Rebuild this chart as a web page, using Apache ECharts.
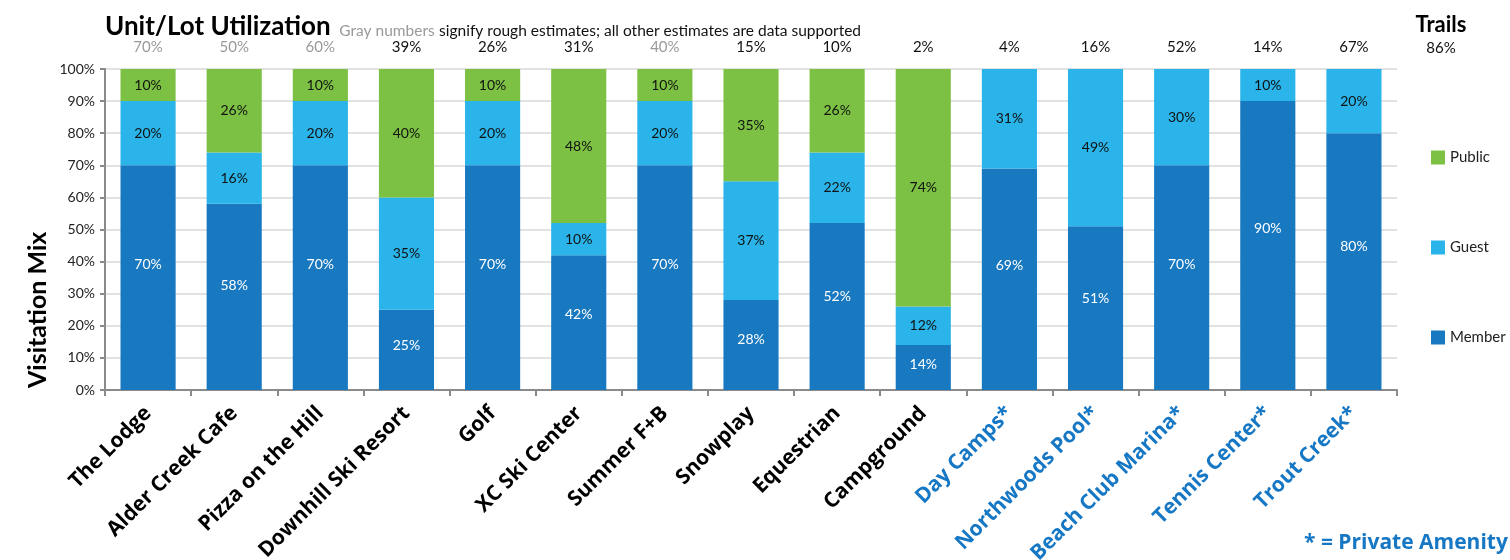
<!DOCTYPE html>
<html>
<head>
<meta charset="utf-8">
<script src="https://cdn.jsdelivr.net/npm/echarts@6/dist/echarts.min.js"></script>
<style>
  html, body { margin: 0; padding: 0; background: #fff; }
  #chart { width: 1510px; height: 560px; }
</style>
</head>
<body>
<div id="chart"></div>
<script>
// Amenities and visitation mix (percent of visits)
const amenities = ['The Lodge', 'Alder Creek Cafe', 'Pizza on the Hill', 'Downhill Ski Resort', 'Golf',
  'XC Ski Center', 'Summer F+B', 'Snowplay', 'Equestrian', 'Campground',
  'Day Camps*', 'Northwoods Pool*', 'Beach Club Marina*', 'Tennis Center*', 'Trout Creek*'];
const privateAmenity = [false, false, false, false, false, false, false, false, false, false,
  true, true, true, true, true];
const member = [70, 58, 70, 25, 70, 42, 70, 28, 52, 14, 69, 51, 70, 90, 80];
const guest  = [20, 16, 20, 35, 20, 10, 20, 37, 22, 12, 31, 49, 30, 10, 20];
const publicMix = [10, 26, 10, 40, 10, 48, 10, 35, 26, 74, 0, 0, 0, 0, 0];

// Unit/lot utilization per amenity; rough estimates are flagged
const utilization = [70, 50, 60, 39, 26, 31, 40, 15, 10, 2, 4, 16, 52, 14, 67];
const roughEstimate = [true, true, true, false, false, false, true, false, false, false,
  false, false, false, false, false];
const trailsUtilization = 86;

const yTicks = [0, 10, 20, 30, 40, 50, 60, 70, 80, 90, 100];

const COLORS = { member: '#1878c0', guest: '#2ab4e9', public: '#7cc143' };
const FONT = 'Lato, "Noto Sans", sans-serif';
const LABEL_FONT = '"Open Sans", "Noto Sans", sans-serif';

const chart = echarts.init(document.getElementById('chart'));

function seriesOf(name, values, color, labelColor, labelPos) {
  return {
    name: name,
    type: 'bar',
    stack: 'mix',
    data: values,
    barCategoryGap: '36%',
    itemStyle: { color: color },
    label: {
      show: true,
      position: labelPos,
      align: 'center',
      verticalAlign: 'middle',
      color: labelColor,
      fontFamily: FONT,
      fontSize: 14,
      formatter: p => (p.value > 0 ? p.value + '%' : '')
    },
    emphasis: { disabled: true }
  };
}

chart.setOption({
  animation: false,
  textStyle: { fontFamily: FONT },
  title: {
    text: '{main|Unit/Lot Utilization}  {gray|Gray numbers} {note|signify rough estimates; all other estimates are data supported}',
    left: 100,
    top: 9,
    textStyle: {
      rich: {
        main: { fontSize: 26, fontWeight: 'bold', color: '#000', fontFamily: FONT },
        gray: { fontSize: 15.5, fontWeight: 'normal', color: '#9a9a9a', fontFamily: FONT, padding: [7, 0, 0, 0] },
        note: { fontSize: 15.5, fontWeight: 'normal', color: '#111', fontFamily: FONT, padding: [7, 0, 0, 0] }
      }
    }
  },
  legend: {
    orient: 'vertical',
    left: 1426,
    top: 145,
    itemWidth: 14,
    itemHeight: 14,
    itemGap: 75,
    icon: 'rect',
    data: ['Public', 'Guest', 'Member'],
    textStyle: { fontSize: 15, color: '#222', fontFamily: FONT }
  },
  grid: { left: 105, right: 113, top: 69, bottom: 170, containLabel: false, outerBoundsMode: 'none' },
  xAxis: [
    {
      type: 'category',
      data: amenities,
      position: 'bottom',
      axisLine: { lineStyle: { color: '#8a8a8a', width: 2 } },
      axisTick: { show: true, length: 6, lineStyle: { color: '#8a8a8a', width: 2 } },
      axisLabel: {
        interval: 0,
        rotate: 45,
        margin: 20,
        fontSize: 21,
        fontWeight: 'bold',
        fontFamily: LABEL_FONT,
        color: (v, i) => (privateAmenity[i] ? '#1677c4' : '#000')
      }
    },
    {
      type: 'category',
      data: amenities,
      position: 'top',
      axisLine: { show: false },
      axisTick: { show: false },
      axisLabel: {
        interval: 0,
        margin: 14,
        fontSize: 15,
        fontFamily: FONT,
        formatter: (v, i) => (roughEstimate[i] ? '{g|' : '{k|') + utilization[i] + '%}',
        rich: {
          g: { color: '#9a9a9a', fontSize: 15, fontFamily: FONT },
          k: { color: '#111', fontSize: 15, fontFamily: FONT }
        }
      }
    }
  ],
  yAxis: {
    type: 'value',
    min: yTicks[0],
    max: yTicks[yTicks.length - 1],
    interval: 10,
    axisLine: { show: true, lineStyle: { color: '#8a8a8a', width: 2 } },
    axisTick: { show: true, length: 5, lineStyle: { color: '#8a8a8a', width: 2 } },
    axisLabel: { formatter: '{value}%', fontSize: 14, color: '#222', fontFamily: FONT, margin: 10 },
    splitLine: { show: true, lineStyle: { color: '#e2e2e2', width: 2 } }
  },
  series: [
    seriesOf('Member', member, COLORS.member, '#fff', ['50%', '44%']),
    seriesOf('Guest', guest, COLORS.guest, '#111', 'inside'),
    seriesOf('Public', publicMix, COLORS.public, '#111', 'inside')
  ],
  graphic: [
    {
      type: 'text',
      x: 25, y: 388,
      rotation: Math.PI / 2,
      style: {
        text: 'Visitation Mix',
        font: 'bold 25px Lato, "Noto Sans", sans-serif',
        fill: '#000'
      }
    },
    {
      type: 'text',
      x: 1441, y: 25,
      style: { text: 'Trails', font: 'bold 22px Lato, "Noto Sans", sans-serif', fill: '#000',
        textAlign: 'center', textVerticalAlign: 'middle' }
    },
    {
      type: 'text',
      x: 1441, y: 48,
      style: { text: trailsUtilization + '%', fontSize: 15, fill: '#111', fontFamily: FONT,
        textAlign: 'center', textVerticalAlign: 'middle' }
    },
    {
      type: 'text',
      x: 1304, y: 543,
      style: { text: '* = Private Amenity', font: 'bold 21px "Open Sans", "Noto Sans", sans-serif',
        fill: '#1677c4', textVerticalAlign: 'middle' }
    }
  ]
});
</script>
</body>
</html>
